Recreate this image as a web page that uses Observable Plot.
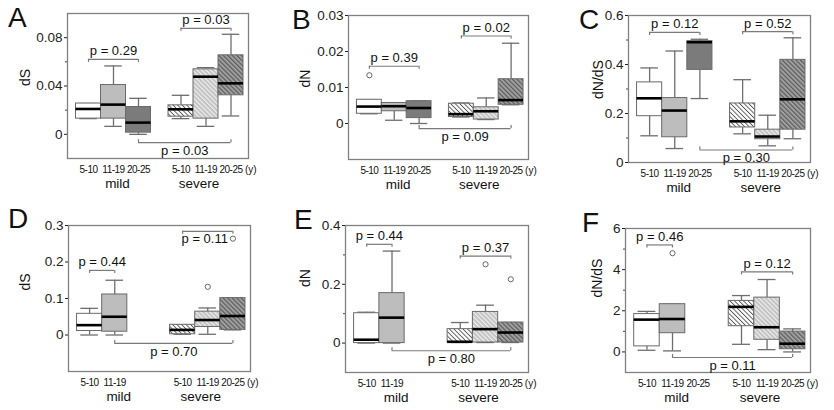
<!DOCTYPE html>
<html><head><meta charset="utf-8">
<script src="https://cdn.jsdelivr.net/npm/d3@7"></script>
<script src="https://cdn.jsdelivr.net/npm/@observablehq/plot@0.6"></script>
<style>
body{margin:0;background:#fff;}
#wrap{position:relative;width:834px;height:410px;overflow:hidden;font-family:"Liberation Sans",Arial,sans-serif;background:#fff;}
.letter{position:absolute;font-size:28px;line-height:1;color:#111;font-family:"Liberation Sans",Arial,sans-serif;}
</style></head><body>
<div id="wrap">
<svg width="0" height="0" style="position:absolute"><defs>
<pattern id="hatchW" patternUnits="userSpaceOnUse" width="3.2" height="3.2" patternTransform="rotate(-45)">
<rect width="3.2" height="3.2" fill="#ffffff"/><rect width="0.9" height="3.2" fill="#555"/></pattern>
<pattern id="hatchL" patternUnits="userSpaceOnUse" width="3.2" height="3.2" patternTransform="rotate(-45)">
<rect width="3.2" height="3.2" fill="#c4c4c4"/><rect width="1.1" height="3.2" fill="#f0f0f0"/></pattern>
<pattern id="hatchD" patternUnits="userSpaceOnUse" width="3.2" height="3.2" patternTransform="rotate(-45)">
<rect width="3.2" height="3.2" fill="#a0a0a0"/><rect width="1.2" height="3.2" fill="#5c5c5c"/></pattern>
</defs></svg>
</div>
<script>
// ---------- data ----------
const ages = ["5-10", "11-19", "20-25"];
const groups = ["mild", "severe"];

// box summaries: [group, age, min, q1, median, q3, max]
const boxesA = [
  ["mild","5-10", 0.013, 0.013, 0.021, 0.0255, 0.0255],
  ["mild","11-19", 0.0066, 0.013, 0.0246, 0.0408, 0.0566],
  ["mild","20-25", 0, 0.0014, 0.0097, 0.0226, 0.0298],
  ["severe","5-10", 0.013, 0.0146, 0.0207, 0.024, 0.0323],
  ["severe","11-19", 0.0066, 0.013, 0.0477, 0.0538, 0.0552],
  ["severe","20-25", 0.0152, 0.0323, 0.0422, 0.0654, 0.0828]
];
const boxesB = [
  ["mild","5-10", 0.0027, 0.0027, 0.0047, 0.0066, 0.0066],
  ["mild","11-19", 0.0009, 0.0034, 0.0048, 0.0057, 0.0057],
  ["mild","20-25", 0, 0.0015, 0.0043, 0.0062, 0.0062],
  ["severe","5-10", 0.0018, 0.0018, 0.0026, 0.0055, 0.0057],
  ["severe","11-19", 0.0011, 0.0011, 0.0034, 0.0045, 0.0071],
  ["severe","20-25", 0.0052, 0.0052, 0.0065, 0.0123, 0.0223]
];
const boxesC = [
  ["mild","5-10", 0.109, 0.189, 0.262, 0.327, 0.386],
  ["mild","11-19", 0.057, 0.103, 0.212, 0.263, 0.455],
  ["mild","20-25", 0.261, 0.378, 0.491, 0.495, 0.503],
  ["severe","5-10", 0.117, 0.143, 0.168, 0.241, 0.338],
  ["severe","11-19", 0.068, 0.095, 0.106, 0.134, 0.193],
  ["severe","20-25", 0.097, 0.134, 0.258, 0.419, 0.509]
];
const boxesD = [
  ["mild","5-10", 0, 0.011, 0.027, 0.058, 0.073],
  ["mild","11-19", 0, 0.009, 0.050, 0.111, 0.150],
  ["severe","5-10", 0.002, 0.002, 0.014, 0.028, 0.028],
  ["severe","11-19", 0.002, 0.022, 0.041, 0.064, 0.074],
  ["severe","20-25", 0.014, 0.014, 0.052, 0.101, 0.101]
];
const boxesE = [
  ["mild","5-10", 0, 0, 0.0115, 0.1016, 0.105],
  ["mild","11-19", 0, 0, 0.0866, 0.170, 0.313],
  ["severe","5-10", 0.002, 0.002, 0.0045, 0.0475, 0.070],
  ["severe","11-19", 0.002, 0.002, 0.0475, 0.106, 0.129],
  ["severe","20-25", 0.002, 0.002, 0.036, 0.070, 0.070]
];
const boxesF = [
  ["mild","5-10", 0.08, 0.27, 1.57, 1.84, 1.97],
  ["mild","11-19", 0.05, 0.91, 1.6, 2.32, 2.32],
  ["severe","5-10", 0.37, 1.25, 2.19, 2.48, 2.74],
  ["severe","11-19", 0.11, 0.59, 1.2, 2.64, 3.52],
  ["severe","20-25", 0, 0.13, 0.4, 0.99, 1.12]
];

// outliers: [group, age, value]
const outliersA = [];
const outliersB = [["mild","5-10", 0.0134]];
const outliersC = [];
const outliersD = [["severe","11-19", 0.132], ["severe","20-25", 0.264]];
const outliersE = [["severe","11-19", 0.268], ["severe","20-25", 0.217]];
const outliersF = [["mild","11-19", 4.8]];

// brackets: [group1, age1, group2, age2, y, label, side, textSide]
const bracketsA = [
  ["mild","5-10","mild","20-25", 0.062, "p = 0.29", "top"],
  ["severe","5-10","severe","20-25", 0.0877, "p = 0.03", "top"],
  ["mild","20-25","severe","20-25", -0.0069, "p = 0.03", "bottom"]
];
const bracketsB = [
  ["mild","5-10","mild","20-25", 0.0159, "p = 0.39", "top"],
  ["severe","5-10","severe","20-25", 0.0243, "p = 0.02", "top"],
  ["mild","20-25","severe","20-25", -0.0014, "p = 0.09", "bottom"]
];
const bracketsC = [
  ["mild","5-10","mild","20-25", 0.531, "p = 0.12", "top"],
  ["severe","5-10","severe","20-25", 0.534, "p = 0.52", "top"],
  ["mild","20-25","severe","20-25", 0.051, "p = 0.30", "bottom"]
];
const bracketsD = [
  ["mild","5-10","mild","11-19", 0.177, "p = 0.44", "top"],
  ["severe","5-10","severe","20-25", 0.284, "p = 0.11", "top", "bottom"],
  ["mild","11-19","severe","20-25", -0.023, "p = 0.70", "bottom"]
];
const bracketsE = [
  ["mild","5-10","mild","11-19", 0.336, "p = 0.44", "top"],
  ["severe","5-10","severe","20-25", 0.296, "p = 0.37", "top"],
  ["mild","11-19","severe","20-25", -0.026, "p = 0.80", "bottom"]
];
const bracketsF = [
  ["mild","5-10","mild","11-19", 5.2, "p = 0.46", "top"],
  ["severe","5-10","severe","20-25", 3.89, "p = 0.12", "top"],
  ["mild","11-19","severe","20-25", -0.27, "p = 0.11", "bottom"]
];

// y domains and ticks
const yDomainA = [-0.02, 0.1],  ticksA = [0, 0.04, 0.08], minorA = [0.02, 0.06];
const yDomainB = [-0.01, 0.03], ticksB = [0, 0.01, 0.02, 0.03], minorB = [];
const yDomainC = [0, 0.6],      ticksC = [0, 0.2, 0.4, 0.6], minorC = [0.1, 0.3, 0.5];
const yDomainD = [-0.1, 0.3],   ticksD = [0, 0.1, 0.2, 0.3], minorD = [];
const yDomainE = [-0.1, 0.4],   ticksE = [0, 0.2, 0.4], minorE = [0.1, 0.3];
const yDomainF = [-1, 6],       ticksF = [0, 2, 4, 6], minorF = [1, 3, 5];

// x tick labels shown on each panel: [group, age]
const allLabels = [["mild","5-10"],["mild","11-19"],["mild","20-25"],["severe","5-10"],["severe","11-19"],["severe","20-25"]];
const twoMildLabels = [["mild","5-10"],["mild","11-19"],["severe","5-10"],["severe","11-19"],["severe","20-25"]];

// ---------- drawing ----------
const groupStart = {mild: 1, severe: 4.7};
const pos = (g, a) => groupStart[g] + ages.indexOf(a);
const fills = {
  mild: {"5-10": "#ffffff", "11-19": "#bdbdbd", "20-25": "#7b7b7b"},
  severe: {"5-10": "url(#hatchW)", "11-19": "url(#hatchL)", "20-25": "url(#hatchD)"}
};
const FONT = "'Liberation Sans', Arial, sans-serif";

const panels = [
  {id:"A", boxes:boxesA, outliers:outliersA, brackets:bracketsA, y:yDomainA, major:ticksA, minor:minorA, label:"dS",    xl:allLabels,     frame:[67,13,181,145],  lab:[-42,0],   letter:[8,4]},
  {id:"B", boxes:boxesB, outliers:outliersB, brackets:bracketsB, y:yDomainB, major:ticksB, minor:minorB, label:"dN",    xl:allLabels,     frame:[348,15,180,144], lab:[-43,0],   letter:[292,6]},
  {id:"C", boxes:boxesC, outliers:outliersC, brackets:bracketsC, y:yDomainC, major:ticksC, minor:minorC, label:"dN/dS", xl:allLabels,     frame:[628,15,182,147], lab:[-30,10],  letter:[579,6]},
  {id:"D", boxes:boxesD, outliers:outliersD, brackets:bracketsD, y:yDomainD, major:ticksD, minor:minorD, label:"dS",    xl:twoMildLabels, frame:[68,225,182,146], lab:[-43,-8],  letter:[8,205]},
  {id:"E", boxes:boxesE, outliers:outliersE, brackets:bracketsE, y:yDomainE, major:ticksE, minor:minorE, label:"dN",    xl:twoMildLabels, frame:[345,225,183,147],lab:[-40,-12], letter:[294,206]},
  {id:"F", boxes:boxesF, outliers:outliersF, brackets:bracketsF, y:yDomainF, major:ticksF, minor:minorF, label:"dN/dS", xl:allLabels,     frame:[625,228,185,144],lab:[-28,-3],  letter:[582,209]}
];

const wrap = document.getElementById("wrap");
const ML = 62, MR = 32, MT = 12, MB = 40;
const halfW = 0.5, capW = 0.35;
const lineCol = "#6e6e6e";

for (const p of panels) {
  const [fl, ft, fw, fh] = p.frame;
  const span = p.y[1] - p.y[0];
  const cap = 3 * span / fh;
  const boxes = p.boxes.map(([g,a,min,q1,med,q3,max]) => ({g, a, x: pos(g,a), min, q1, med, q3, max}));
  const outl = p.outliers.map(([g,a,v]) => ({x: pos(g,a), v}));
  const brs = p.brackets.map(([g1,a1,g2,a2,y,text,side,textSide]) => ({x1: pos(g1,a1), x2: pos(g2,a2), y, text, side, textSide: textSide || side}));
  const caps = brs.flatMap(b => [b.x1, b.x2].map(x => ({x, y1: b.y, y2: b.side === "top" ? b.y - cap : b.y + cap})));
  const labelOf = new Map(p.xl.map(([g,a]) => [pos(g,a), a]));
  const fmt = d => d === 0 ? "0" : String(d);
  const mid = d => (d.x1 + d.x2) / 2;

  const marks = [
    Plot.frame({stroke: "#808080", strokeWidth: 1.3}),
    Plot.axisY({ticks: p.major, tickSize: 3, tickPadding: 2, fontSize: 13.5, tickFormat: fmt, label: null, color: "#222"}),
    Plot.axisY({ticks: p.minor, tickSize: 2, tickFormat: () => "", label: null, color: "#444"}),
    Plot.axisX({ticks: [...labelOf.keys()], tickFormat: v => labelOf.get(v), tickSize: 0, tickPadding: 7, fontSize: 10, label: null, color: "#111"}),
    Plot.text(["(y)"], {x: () => pos("severe","20-25"), frameAnchor: "bottom", lineAnchor: "top", textAnchor: "start", dx: 14, dy: 7, fontSize: 10, fill: "#111", ariaLabel: "unit"}),
    Plot.text([groups[0]], {x: () => pos("mild","11-19"), frameAnchor: "bottom", lineAnchor: "bottom", dx: 4, dy: 29, fontSize: 13.5, fill: "#111"}),
    Plot.text([groups[1]], {x: () => pos("severe","11-19"), frameAnchor: "bottom", lineAnchor: "bottom", dx: -7, dy: 29, fontSize: 13.5, fill: "#111"}),
    Plot.text([p.label], {frameAnchor: "left", rotate: -90, dx: p.lab[0], dy: p.lab[1], lineAnchor: "middle", fontSize: 14, fill: "#111"}),
    // whiskers
    Plot.ruleX(boxes, {x: "x", y1: "q3", y2: "max", stroke: lineCol, strokeWidth: 1.3}),
    Plot.ruleX(boxes, {x: "x", y1: "min", y2: "q1", stroke: lineCol, strokeWidth: 1.3}),
    Plot.ruleY(boxes, {x1: d => d.x - capW, x2: d => d.x + capW, y: "max", stroke: lineCol, strokeWidth: 1.3}),
    Plot.ruleY(boxes, {x1: d => d.x - capW, x2: d => d.x + capW, y: "min", stroke: lineCol, strokeWidth: 1.3}),
    // boxes
    ...boxes.map(b => Plot.rect([b], {x1: d => d.x - halfW, x2: d => d.x + halfW, y1: "q1", y2: "q3", fill: fills[b.g][b.a], stroke: "#6a6a6a", strokeWidth: 1})),
    // medians
    Plot.ruleY(boxes, {x1: d => d.x - halfW, x2: d => d.x + halfW, y: "med", stroke: "#000", strokeWidth: 2.6}),
    // outliers
    Plot.dot(outl, {x: "x", y: "v", r: 2.6, stroke: "#666", fill: "#fff", strokeWidth: 1}),
    // brackets
    Plot.ruleY(brs, {x1: "x1", x2: "x2", y: "y", stroke: "#7a7a7a", strokeWidth: 1.2}),
    Plot.ruleX(caps, {x: "x", y1: "y1", y2: "y2", stroke: "#7a7a7a", strokeWidth: 1.2}),
    Plot.text(brs.filter(b => b.textSide === "top"), {x: mid, y: "y", text: "text", lineAnchor: "bottom", dy: -4, fontSize: 13, fill: "#111"}),
    Plot.text(brs.filter(b => b.side === "bottom"), {x: mid, y: "y", text: "text", lineAnchor: "top", dy: 3, fontSize: 13, fill: "#111"}),
    Plot.text(brs.filter(b => b.side === "top" && b.textSide === "bottom"), {x: mid, y: "y", text: "text", lineAnchor: "top", dx: -3, dy: 2, fontSize: 13, fill: "#111"})
  ];

  const svg = Plot.plot({
    width: ML + fw + MR, height: MT + fh + MB,
    marginLeft: ML, marginRight: MR, marginTop: MT, marginBottom: MB,
    x: {domain: [0.16, 7.4], axis: null},
    y: {domain: p.y, axis: null},
    style: {fontFamily: FONT, background: "transparent", overflow: "visible", color: "#222"},
    marks
  });
  svg.querySelectorAll('g[aria-label="x-axis tick label"] text, g[aria-label="unit"] text')
     .forEach(t => t.style.letterSpacing = "-0.5px");
  svg.style.position = "absolute";
  svg.style.left = (fl - ML) + "px";
  svg.style.top = (ft - MT) + "px";
  wrap.appendChild(svg);

  const L = document.createElement("div");
  L.className = "letter";
  L.textContent = p.id;
  L.style.left = p.letter[0] + "px";
  L.style.top = p.letter[1] + "px";
  wrap.appendChild(L);
}
</script>
</body></html>
